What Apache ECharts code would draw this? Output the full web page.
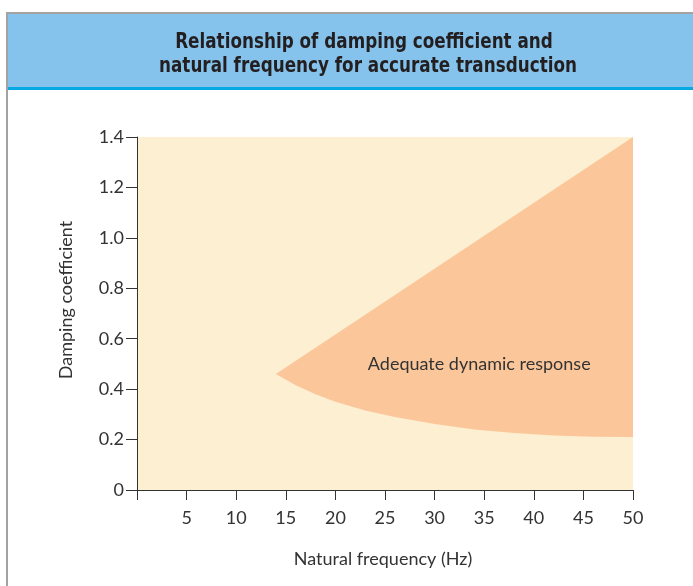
<!DOCTYPE html>
<html>
<head>
<meta charset="utf-8">
<script src="https://cdn.jsdelivr.net/npm/echarts@6/dist/echarts.min.js"></script>
<style>
html,body{margin:0;padding:0;background:#fff;}
#chart{width:693px;height:586px;}
</style>
</head>
<body>
<div id="chart"></div>
<script>
var titleLines = ['Relationship of damping coefficient and', 'natural frequency for accurate transduction'];
var xTicks = [0, 5, 10, 15, 20, 25, 30, 35, 40, 45, 50];
var yTicks = [0, 0.2, 0.4, 0.6, 0.8, 1.0, 1.2, 1.4];
// upper boundary of the adequate-response region (frequency Hz, damping)
var upperFreq = [14, 50];
var upperDamp = [0.46, 1.4];
// lower boundary of the region
var lowerFreq = [14, 16, 18, 20, 23, 26, 30, 34, 38, 42, 46, 50];
var lowerDamp = [0.46, 0.415, 0.38, 0.35, 0.315, 0.29, 0.262, 0.24, 0.226, 0.216, 0.211, 0.21];
var regionLabel = 'Adequate dynamic response';
var regionLabelAt = [34.5, 0.497];

var chart = echarts.init(document.getElementById('chart'));
var fontFam = 'Lato, "DejaVu Sans", sans-serif';
var titleFont = 'bold 21px "DejaVu Sans Condensed", "DejaVu Sans", sans-serif';

var option = {
  animation: false,
  backgroundColor: '#ffffff',
  graphic: [
    {type: 'rect', shape: {x: 6, y: 12, width: 700, height: 2}, style: {fill: '#a3a3a3'}, z: 1},
    {type: 'rect', shape: {x: 6, y: 12, width: 2, height: 600}, style: {fill: '#a3a3a3'}, z: 1},
    {type: 'rect', shape: {x: 8, y: 14, width: 700, height: 73}, style: {fill: '#85c3ec'}, z: 0},
    {type: 'rect', shape: {x: 8, y: 87, width: 700, height: 3}, style: {fill: '#06a9e3'}, z: 0},
    {type: 'text', x: 364, y: 43, scaleX: 0.89, style: {text: titleLines[0], fill: '#231f20', font: titleFont, align: 'center', verticalAlign: 'middle'}, z: 2},
    {type: 'text', x: 368, y: 67, scaleX: 0.89, style: {text: titleLines[1], fill: '#231f20', font: titleFont, align: 'center', verticalAlign: 'middle'}, z: 2},
    {type: 'text', x: 66, y: 300, rotation: Math.PI / 2, style: {text: 'Damping coefficient', fill: '#333', font: '18px ' + fontFam, align: 'center', verticalAlign: 'middle'}, z: 2},
    {type: 'text', x: 383, y: 559, style: {text: 'Natural frequency (Hz)', fill: '#333', font: '18px ' + fontFam, align: 'center', verticalAlign: 'middle'}, z: 2}
  ],
  grid: {left: 137, right: 60, top: 137, bottom: 96, show: true, backgroundColor: '#fdefd2', borderWidth: 0},
  xAxis: {
    type: 'value', min: xTicks[0], max: xTicks[xTicks.length - 1], interval: 5,
    axisLine: {show: true, lineStyle: {color: '#333', width: 1}},
    axisTick: {show: true, inside: false, length: 10, lineStyle: {color: '#333'}},
    splitLine: {show: false},
    axisLabel: {color: '#333', fontSize: 18, fontFamily: fontFam, margin: 19,
      formatter: function (v) { return v === 0 ? '' : String(v); }}
  },
  yAxis: {
    type: 'value', min: yTicks[0], max: yTicks[yTicks.length - 1], interval: 0.2,
    axisLine: {show: true, lineStyle: {color: '#333', width: 1}},
    axisTick: {show: true, inside: false, length: 11, lineStyle: {color: '#333'}},
    splitLine: {show: false},
    axisLabel: {color: '#333', fontSize: 18, fontFamily: fontFam, margin: 13,
      formatter: function (v) { return v === 0 ? '0' : v.toFixed(1); }}
  },
  series: [{
    type: 'custom',
    coordinateSystem: 'cartesian2d',
    data: [[0, 0]],
    clip: true,
    renderItem: function (params, api) {
      var pts = [];
      for (var i = 0; i < upperFreq.length; i++) pts.push(api.coord([upperFreq[i], upperDamp[i]]));
      for (var j = lowerFreq.length - 1; j >= 0; j--) pts.push(api.coord([lowerFreq[j], lowerDamp[j]]));
      var lp = api.coord(regionLabelAt);
      return {
        type: 'group',
        children: [
          {type: 'polygon', shape: {points: pts, smooth: 0}, style: {fill: '#fbc79a'}},
          {type: 'text', x: lp[0], y: lp[1], style: {text: regionLabel, fill: '#333', font: '18px ' + fontFam, align: 'center', verticalAlign: 'middle'}}
        ]
      };
    }
  }]
};
chart.setOption(option);
</script>
</body>
</html>
